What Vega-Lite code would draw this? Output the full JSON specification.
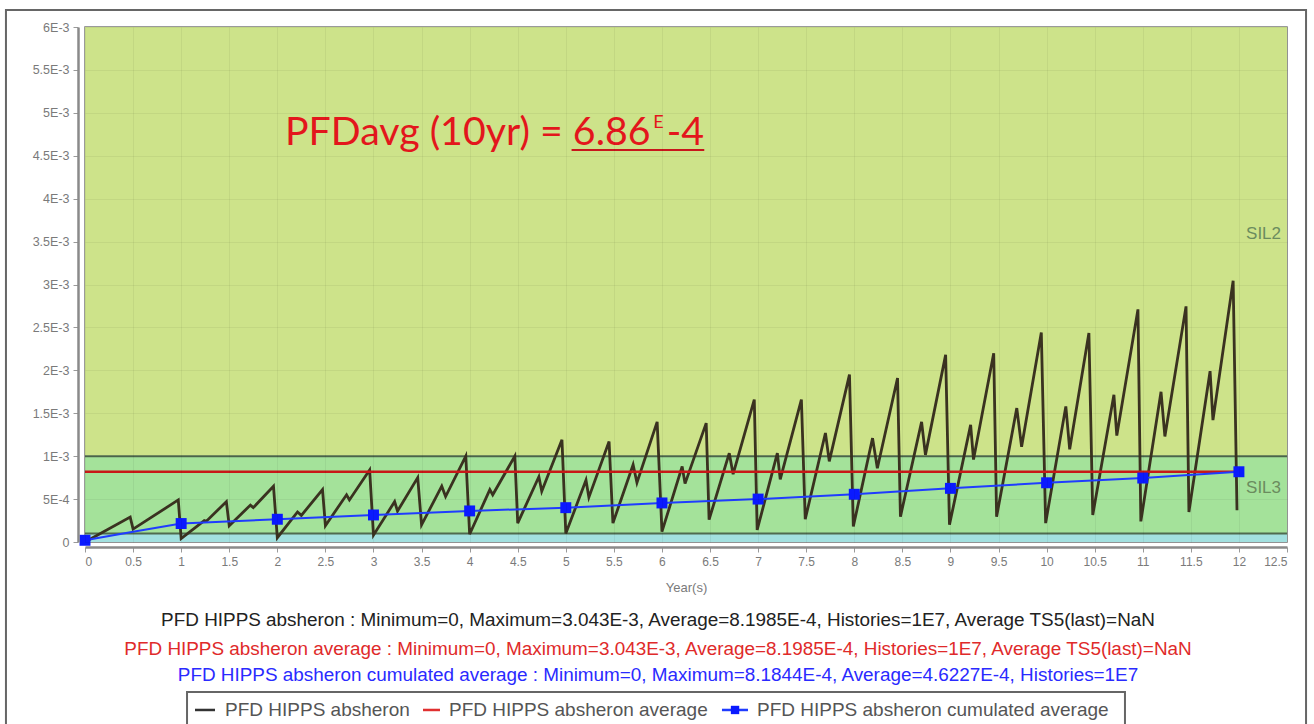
{
  "$schema": "https://vega.github.io/schema/vega-lite/v6.json",
  "width": 1202,
  "height": 515,
  "autosize": {"type": "none"},
  "padding": {"left": 85, "top": 27, "right": 27, "bottom": 182},
  "background": "white",
  "config": {
    "view": {"stroke": "#7a7a7a", "strokeWidth": 1.5},
    "axis": {"labelFont": "Liberation Sans", "titleFont": "Liberation Sans"}
  },
  "encoding": {
    "x": {
      "field": "x", "type": "quantitative",
      "scale": {"domain": [0, 12.5], "nice": false, "zero": false},
      "axis": {
        "values": [0, 0.5, 1, 1.5, 2, 2.5, 3, 3.5, 4, 4.5, 5, 5.5, 6, 6.5, 7, 7.5, 8, 8.5, 9, 9.5, 10, 10.5, 11, 11.5, 12, 12.5],
        "format": "~g", "title": "Year(s)", "titleColor": "#7a7a7a", "titleFontWeight": "normal", "titleFontSize": 13,
        "titlePadding": 14, "labelColor": "#7a7a7a", "labelFontSize": 12, "offset": 5,
        "domainColor": "#8a8a8a", "domainWidth": 2.5, "tickColor": "#9a9a9a", "tickSize": 5, "labelPadding": 4,
        "grid": true, "gridColor": "#000000", "gridOpacity": 0.05, "zindex": 1
      }
    },
    "y": {
      "field": "y", "type": "quantitative",
      "scale": {"domain": [0, 0.006], "nice": false, "zero": false},
      "axis": {
        "values": [0, 0.0005, 0.001, 0.0015, 0.002, 0.0025, 0.003, 0.0035, 0.004, 0.0045, 0.005, 0.0055, 0.006],
        "labelExpr": "datum.value == 0 ? '0' : (datum.value < 0.00099 ? round(datum.value * 10000) + 'E-4' : (round(datum.value * 10000) / 10) + 'E-3')",
        "title": null, "labelColor": "#7a7a7a", "labelFontSize": 12.5, "offset": 7,
        "domainColor": "#8a8a8a", "domainWidth": 2.5, "tickColor": "#9a9a9a", "tickSize": 5, "labelPadding": 4,
        "grid": true, "gridColor": "#000000", "gridOpacity": 0.05, "zindex": 1
      }
    }
  },
  "layer": [
    {
      "data": {"values": [
        {"x": 0, "x2": 12.5, "y": 0.001, "y2": 0.006, "band": "SIL2"},
        {"x": 0, "x2": 12.5, "y": 0.0001, "y2": 0.001, "band": "SIL3"},
        {"x": 0, "x2": 12.5, "y": 0, "y2": 0.0001, "band": "SIL4"}
      ]},
      "mark": {"type": "rect"},
      "encoding": {
        "x2": {"field": "x2"},
        "y2": {"field": "y2"},
        "color": {"field": "band", "type": "nominal", "scale": {"domain": ["SIL2", "SIL3", "SIL4"], "range": ["#cde38a", "#a4e29a", "#a2e0df"]}, "legend": null}
      }
    },
    {
      "data": {"values": [
        {"x": 0, "y": 0.001, "lvl": "a"}, {"x": 12.5, "y": 0.001, "lvl": "a"},
        {"x": 0, "y": 0.0001, "lvl": "b"}, {"x": 12.5, "y": 0.0001, "lvl": "b"}
      ]},
      "mark": {"type": "line", "color": "#4f6a4f", "strokeWidth": 2},
      "encoding": {"detail": {"field": "lvl"}}
    },
    {
      "data": {"values": [
        {"x": 0, "y": 0}, {"x": 0.47, "y": 0.00029}, {"x": 0.5, "y": 0.00015}, {"x": 0.97, "y": 0.00049},
        {"x": 1.0, "y": 0.00004}, {"x": 1.24, "y": 0.00025}, {"x": 1.26, "y": 0.00024}, {"x": 1.47, "y": 0.00047},
        {"x": 1.5, "y": 0.00019}, {"x": 1.72, "y": 0.00043}, {"x": 1.75, "y": 0.0004}, {"x": 1.96, "y": 0.00065},
        {"x": 2.0, "y": 0.00005}, {"x": 2.21, "y": 0.00035}, {"x": 2.25, "y": 0.00031}, {"x": 2.47, "y": 0.00061},
        {"x": 2.5, "y": 0.00019}, {"x": 2.72, "y": 0.00055}, {"x": 2.75, "y": 0.00049}, {"x": 2.96, "y": 0.00084},
        {"x": 3.0, "y": 0.00008}, {"x": 3.22, "y": 0.00047}, {"x": 3.25, "y": 0.00036}, {"x": 3.46, "y": 0.00075},
        {"x": 3.5, "y": 0.0002}, {"x": 3.71, "y": 0.00065}, {"x": 3.75, "y": 0.00053}, {"x": 3.96, "y": 0.001},
        {"x": 4.0, "y": 0.00009}, {"x": 4.21, "y": 0.00061}, {"x": 4.24, "y": 0.00055}, {"x": 4.47, "y": 0.001},
        {"x": 4.5, "y": 0.00022}, {"x": 4.72, "y": 0.00076}, {"x": 4.75, "y": 0.00059}, {"x": 4.96, "y": 0.00119},
        {"x": 5.0, "y": 0.0001}, {"x": 5.21, "y": 0.00072}, {"x": 5.24, "y": 0.00052}, {"x": 5.45, "y": 0.00117},
        {"x": 5.49, "y": 0.00022}, {"x": 5.7, "y": 0.0009}, {"x": 5.74, "y": 0.00069}, {"x": 5.95, "y": 0.0014},
        {"x": 6.0, "y": 0.00012}, {"x": 6.21, "y": 0.00088}, {"x": 6.24, "y": 0.00068}, {"x": 6.46, "y": 0.001385},
        {"x": 6.49, "y": 0.00026}, {"x": 6.7, "y": 0.001035}, {"x": 6.74, "y": 0.00079}, {"x": 6.96, "y": 0.00166},
        {"x": 6.99, "y": 0.00014}, {"x": 7.2, "y": 0.001035}, {"x": 7.23, "y": 0.00073}, {"x": 7.45, "y": 0.00166},
        {"x": 7.49, "y": 0.000265}, {"x": 7.7, "y": 0.00127}, {"x": 7.74, "y": 0.00094}, {"x": 7.95, "y": 0.00195},
        {"x": 7.99, "y": 0.00018}, {"x": 8.19, "y": 0.00121}, {"x": 8.24, "y": 0.00086}, {"x": 8.45, "y": 0.00191},
        {"x": 8.48, "y": 0.000295}, {"x": 8.7, "y": 0.0014}, {"x": 8.74, "y": 0.001015}, {"x": 8.95, "y": 0.00218},
        {"x": 8.99, "y": 0.0002}, {"x": 9.21, "y": 0.001365}, {"x": 9.24, "y": 0.00096}, {"x": 9.45, "y": 0.0022},
        {"x": 9.48, "y": 0.000295}, {"x": 9.69, "y": 0.00156}, {"x": 9.74, "y": 0.00111}, {"x": 9.945, "y": 0.00244},
        {"x": 9.99, "y": 0.00022}, {"x": 10.2, "y": 0.00158}, {"x": 10.24, "y": 0.00108}, {"x": 10.44, "y": 0.002435},
        {"x": 10.48, "y": 0.000315}, {"x": 10.7, "y": 0.001715}, {"x": 10.73, "y": 0.00124}, {"x": 10.95, "y": 0.00271},
        {"x": 10.98, "y": 0.00024}, {"x": 11.19, "y": 0.00175}, {"x": 11.23, "y": 0.00123}, {"x": 11.45, "y": 0.002745},
        {"x": 11.48, "y": 0.00035}, {"x": 11.7, "y": 0.00199}, {"x": 11.73, "y": 0.00142}, {"x": 11.94, "y": 0.003043},
        {"x": 11.98, "y": 0.00037}
      ]},
      "mark": {"type": "line", "color": "#3a3220", "strokeWidth": 2.8}
    },
    {
      "data": {"values": [{"x": 0, "y": 0.00081985}, {"x": 12, "y": 0.00081985}]},
      "mark": {"type": "line", "color": "#c81818", "strokeWidth": 2.5}
    },
    {
      "data": {"values": [
        {"x": 0, "y": 0.00002, "m": 1}, {"x": 0.5, "y": 0.00012, "m": 0}, {"x": 1, "y": 0.000215, "m": 1},
        {"x": 2, "y": 0.000265, "m": 1}, {"x": 3, "y": 0.000315, "m": 1}, {"x": 4, "y": 0.000362, "m": 1},
        {"x": 5, "y": 0.0004, "m": 1}, {"x": 6, "y": 0.000455, "m": 1}, {"x": 7, "y": 0.0005, "m": 1},
        {"x": 8, "y": 0.000556, "m": 1}, {"x": 9, "y": 0.000625, "m": 1}, {"x": 10, "y": 0.00069, "m": 1},
        {"x": 11, "y": 0.000745, "m": 1}, {"x": 12, "y": 0.00081844, "m": 1}
      ]},
      "layer": [
        {"mark": {"type": "line", "color": "#1f3cff", "strokeWidth": 2}},
        {"transform": [{"filter": "datum.m == 1"}], "mark": {"type": "square", "color": "#0a1aff", "opacity": 1, "size": 120}}
      ]
    },
    {
      "data": {"values": [{"x": 12.438, "y": 0.003588, "t": "SIL2"}, {"x": 12.438, "y": 0.00063, "t": "SIL3"}]},
      "mark": {"type": "text", "align": "right", "baseline": "middle", "font": "Liberation Sans", "fontSize": 17, "color": "#6b8c5e"},
      "encoding": {"text": {"field": "t"}}
    },
    {
      "data": {"values": [{"x": 2.08, "y": 0.004625, "t": "PFDavg (10yr) = 6.86"}, {"x": 6.05, "y": 0.004625, "t": "-4"}]},
      "mark": {"type": "text", "align": "left", "baseline": "alphabetic", "font": "Lato", "fontSize": 39.3, "color": "#e3161c"},
      "encoding": {"text": {"field": "t"}}
    },
    {
      "data": {"values": [{"x": 5.91, "y": 0.004824, "t": "E"}]},
      "mark": {"type": "text", "align": "left", "baseline": "alphabetic", "font": "Lato", "fontSize": 18, "color": "#e3161c"},
      "encoding": {"text": {"field": "t"}}
    },
    {
      "data": {"values": [{"x": 5.06, "y": 0.004567}, {"x": 6.44, "y": 0.004567}]},
      "mark": {"type": "line", "color": "#c8161c", "strokeWidth": 2}
    },
    {
      "data": {"values": [{"x": 5.959, "y": -0.000909, "t": "PFD HIPPS absheron : Minimum=0,  Maximum=3.043E-3,  Average=8.1985E-4,  Histories=1E7,  Average TS5(last)=NaN"}]},
      "mark": {"type": "text", "align": "center", "baseline": "middle", "font": "Liberation Sans", "fontSize": 18.9, "color": "#222222"},
      "encoding": {"text": {"field": "t"}}
    },
    {
      "data": {"values": [{"x": 5.959, "y": -0.001247, "t": "PFD HIPPS absheron average : Minimum=0,  Maximum=3.043E-3,  Average=8.1985E-4,  Histories=1E7,  Average TS5(last)=NaN"}]},
      "mark": {"type": "text", "align": "center", "baseline": "middle", "font": "Liberation Sans", "fontSize": 18.9, "color": "#e02a2a"},
      "encoding": {"text": {"field": "t"}}
    },
    {
      "data": {"values": [{"x": 5.959, "y": -0.00155, "t": "PFD HIPPS absheron cumulated average : Minimum=0,  Maximum=8.1844E-4,  Average=4.6227E-4,  Histories=1E7"}]},
      "mark": {"type": "text", "align": "center", "baseline": "middle", "font": "Liberation Sans", "fontSize": 18.9, "color": "#2a2aff"},
      "encoding": {"text": {"field": "t"}}
    },
    {
      "data": {"values": [
        {"x": 1.061, "x2": 10.815, "y": -0.001748, "y2": -0.002307, "k": "legend"},
        {"x": -0.822, "x2": 12.698, "y": 0.006198, "y2": -0.002307, "k": "frame"}
      ]},
      "mark": {"type": "rect", "fillOpacity": 0, "stroke": "#666666", "strokeWidth": 2},
      "encoding": {"x2": {"field": "x2"}, "y2": {"field": "y2"}, "detail": {"field": "k"}}
    },
    {
      "data": {"values": [{"x": 1.144, "y": -0.001957}, {"x": 1.352, "y": -0.001957}]},
      "mark": {"type": "line", "color": "#333333", "strokeWidth": 2.5}
    },
    {
      "data": {"values": [{"x": 3.515, "y": -0.001957}, {"x": 3.692, "y": -0.001957}]},
      "mark": {"type": "line", "color": "#e03030", "strokeWidth": 2.5}
    },
    {
      "data": {"values": [{"x": 6.624, "y": -0.001957}, {"x": 6.895, "y": -0.001957}]},
      "layer": [
        {"mark": {"type": "line", "color": "#1f3cff", "strokeWidth": 2.5}},
        {"data": {"values": [{"x": 6.76, "y": -0.001957}]}, "mark": {"type": "square", "color": "#0a1aff", "opacity": 1, "size": 70}}
      ]
    },
    {
      "data": {"values": [
        {"x": 1.456, "y": -0.001957, "t": "PFD HIPPS absheron"},
        {"x": 3.785, "y": -0.001957, "t": "PFD HIPPS absheron average"},
        {"x": 6.988, "y": -0.001957, "t": "PFD HIPPS absheron cumulated average"}
      ]},
      "mark": {"type": "text", "align": "left", "baseline": "middle", "font": "Liberation Sans", "fontSize": 19, "color": "#555555"},
      "encoding": {"text": {"field": "t"}}
    }
  ]
}
